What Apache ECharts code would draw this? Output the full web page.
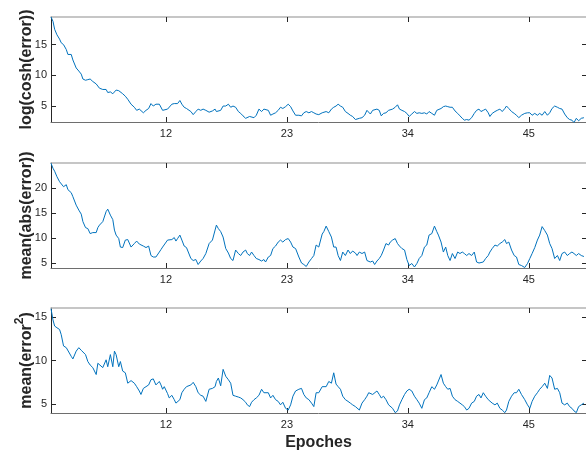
<!DOCTYPE html>
<html>
<head>
<meta charset="utf-8">
<script src="https://cdn.jsdelivr.net/npm/echarts@6/dist/echarts.min.js"></script>
<style>html,body{margin:0;padding:0;background:#fff}#c{width:586px;height:454px}</style>
</head>
<body>
<div id="c"></div>
<script>
// Shared epoch positions of the samples
const epochs = [1.55,1.73,1.88,2.09,2.33,2.48,2.69,2.94,3.09,3.39,
3.54,3.84,4.08,4.30,4.45,4.69,4.90,5.11,5.35,5.66,
5.81,5.96,6.26,6.56,6.71,6.95,7.17,7.32,7.47,7.71,
7.86,8.07,8.31,8.53,8.83,9.13,9.34,9.58,9.73,9.95,
10.19,10.43,10.64,10.85,11.09,11.24,11.40,11.55,11.70,11.85,
12.15,12.30,12.54,12.76,12.91,13.06,13.27,13.45,13.66,13.87,
14.05,14.27,14.48,14.72,14.93,15.17,15.38,15.63,15.93,16.23,
16.47,16.59,16.77,16.98,17.20,17.44,17.68,17.89,18.10,18.34,
18.59,18.80,19.01,19.25,19.40,19.61,19.79,20.01,20.22,20.46,
20.70,20.91,21.06,21.31,21.52,21.73,21.97,22.21,22.42,22.63,
22.88,23.12,
23.34,23.55,23.79,24.09,24.33,24.54,24.76,25.00,25.24,25.45,
25.66,25.90,26.21,26.36,26.57,26.81,27.05,27.26,27.47,27.66,
27.87,28.08,28.32,28.56,28.77,28.98,29.23,29.38,29.59,29.83,
30.07,30.28,30.44,30.59,30.80,30.98,31.19,31.40,31.58,31.79,
32.01,32.25,32.40,32.61,32.85,33.06,33.24,33.46,33.70,33.91,
34.12,34.36,34.60,34.82,35.03,35.27,35.51,35.72,35.93,36.18,
36.42,36.63,36.78,37.02,37.23,37.44,37.63,37.84,38.05,38.29,
38.53,38.74,38.95,39.14,39.35,39.56,39.80,40.04,40.25,40.47,
40.65,40.86,41.07,41.31,41.46,41.67,41.92,42.13,42.37,42.58,
42.82,42.97,43.18,43.43,43.67,43.88,44.09,44.33,44.63,44.88,
45.09,45.30,45.54,45.78,45.99,46.21,46.45,46.69,46.90,47.11,
47.35,47.60,47.81,48.02,48.26,48.50,48.71,48.92,49.11,49.32,
49.53,49.77,50.01];

const logCosh = [19.5,18.8,17.5,16.6,15.9,15.3,15.0,14.2,13.4,13.4,
12.5,11.2,10.7,10.2,9.4,9.2,9.3,9.4,9.0,8.6,
8.4,7.9,7.7,7.7,7.2,7.3,7.0,7.3,7.6,7.5,
7.6,7.0,6.6,6.1,5.3,4.8,4.3,4.5,4.2,3.9,
4.3,4.6,5.4,5.0,5.3,5.5,5.3,5.0,4.3,4.2,
4.5,4.6,5.3,5.4,5.2,5.4,5.9,5.3,4.8,4.6,
4.5,4.1,3.6,4.1,4.5,4.3,4.5,4.3,4.0,4.2,
4.5,4.1,4.3,4.3,5.0,5.0,5.3,4.8,5.0,4.8,
4.1,3.8,3.4,3.0,2.7,3.3,3.0,3.1,3.5,4.5,
4.1,4.5,4.6,4.3,3.5,3.7,3.9,4.3,4.8,4.6,
4.9,5.3,
4.9,4.2,3.5,3.5,3.4,3.9,4.1,3.9,4.1,3.9,
3.7,3.6,3.9,3.6,4.1,3.9,4.5,4.8,5.0,5.3,
5.0,4.8,4.1,3.8,3.5,3.3,2.8,2.6,3.0,3.1,
3.5,4.3,4.2,3.7,4.3,4.6,4.5,4.3,3.4,3.8,
3.9,4.3,4.6,4.5,4.8,5.2,4.5,4.3,4.1,3.8,
3.3,3.7,4.1,3.8,3.9,3.8,3.9,3.7,4.1,3.8,
3.5,4.3,4.1,4.6,4.9,5.0,4.9,4.8,4.8,4.2,
3.8,3.4,3.0,2.7,2.8,2.7,3.1,3.8,4.3,4.5,
4.1,4.3,4.5,3.9,3.3,3.8,4.1,4.3,4.5,4.1,
4.6,5.0,4.6,4.1,3.8,3.5,3.1,3.5,3.8,3.9,
3.9,3.5,3.8,3.5,3.8,3.5,4.1,3.5,3.9,4.6,
5.0,4.8,4.6,4.5,3.7,3.1,2.8,2.7,2.3,3.0,
2.6,3.0,3.1];

const meanAbs = [25.0,24.0,23.4,22.3,21.3,21.7,20.3,20.7,19.7,19.1,
18.3,16.6,15.6,14.8,13.3,12.1,11.9,10.9,11.1,11.1,
12.1,12.6,13.3,15.3,15.8,14.6,13.7,11.6,10.6,9.9,
8.2,8.1,9.6,9.7,8.2,8.9,9.4,8.8,8.6,8.4,
8.1,8.4,6.5,6.2,6.2,6.5,7.2,7.7,8.2,8.4,
9.6,9.9,9.7,10.1,9.4,9.9,10.6,9.6,8.4,8.1,
7.9,5.9,5.5,5.7,4.7,5.4,5.9,6.9,8.9,9.6,
11.6,12.6,11.9,11.3,10.2,7.9,7.0,5.9,5.5,7.6,
6.9,6.5,7.2,7.6,6.9,6.5,7.2,6.5,5.9,5.7,
5.4,5.7,5.2,6.2,6.5,7.9,8.4,9.2,9.6,9.2,
9.7,9.9,
9.2,8.2,7.9,6.2,5.0,4.7,4.3,5.2,5.9,6.5,
8.6,8.2,10.8,11.3,12.4,11.3,10.2,8.2,8.2,6.5,
5.5,7.2,6.5,7.6,6.9,7.4,7.0,6.5,7.2,6.9,
7.2,5.5,5.4,5.2,5.4,4.7,5.4,5.9,6.5,7.6,
8.9,8.6,9.2,9.6,9.9,8.9,8.4,7.9,7.6,5.7,
4.5,4.9,4.2,4.9,5.9,6.5,8.2,8.6,10.6,10.9,
12.4,11.3,10.6,9.2,7.2,8.2,6.5,5.5,6.9,5.9,
7.2,6.9,7.2,6.9,6.5,6.9,6.5,7.2,5.2,5.0,
4.7,5.2,5.9,6.5,7.2,7.9,8.6,8.4,8.9,9.2,
9.7,8.9,9.2,7.6,6.5,6.2,4.7,4.5,4.1,4.9,
5.9,6.9,8.1,9.6,10.6,12.3,11.5,10.6,8.9,7.9,
5.9,6.5,5.5,6.9,7.2,6.5,6.9,7.2,6.9,6.5,
6.9,6.5,6.3];

const meanSq = [16.0,14.7,14.0,13.8,13.6,13.0,11.7,11.5,11.5,10.5,
10.2,11.1,11.5,11.2,11.3,10.7,9.9,9.5,9.2,8.4,
9.7,9.9,9.2,10.1,9.3,10.7,9.3,11.1,10.7,9.3,
9.9,8.8,8.6,7.4,7.7,7.4,7.0,6.5,6.1,6.8,
7.0,7.2,7.8,7.9,7.2,7.4,7.6,7.2,6.7,7.0,
6.2,5.7,6.0,5.5,5.1,5.2,5.5,6.3,6.7,7.0,
7.0,7.2,7.5,7.0,6.3,6.0,5.9,5.3,6.7,6.8,
7.0,7.6,8.0,7.1,9.0,8.2,7.8,7.4,6.0,5.9,
5.8,5.7,5.5,5.2,4.9,4.7,5.2,5.5,5.7,6.0,
6.7,6.3,6.5,6.3,5.7,6.0,5.5,5.3,4.9,5.2,
4.5,4.3,
4.9,5.9,6.5,6.7,6.8,6.1,5.7,5.5,5.1,4.7,
6.3,6.3,7.0,7.2,7.0,7.6,7.4,8.6,7.3,7.0,
6.7,5.9,5.5,5.3,5.1,4.9,4.7,4.5,4.3,5.1,
5.5,5.9,6.3,6.5,6.1,6.3,6.5,6.1,5.7,5.9,
5.5,4.9,4.7,4.5,4.0,4.2,4.9,5.5,6.1,6.5,
6.7,6.5,5.9,5.5,5.1,4.5,5.5,5.7,6.3,7.0,
6.7,7.2,7.4,8.4,7.4,7.0,6.7,6.8,5.9,5.5,
5.3,5.1,4.9,4.7,4.3,4.5,5.1,5.3,5.9,6.1,
5.7,6.3,5.9,5.5,5.7,5.1,4.9,5.1,4.5,4.3,
4.0,4.3,5.3,5.9,6.3,6.3,6.7,6.1,5.5,4.9,
4.5,5.3,5.9,6.3,6.7,7.0,7.4,6.8,8.3,8.0,
6.7,6.8,6.3,5.1,4.9,5.1,4.7,4.5,4.2,4.0,
4.7,4.9,5.1];

const xTicks = [12, 23, 34, 45];
const yTicks1 = [5, 10, 15];
const yTicks2 = [5, 10, 15, 20];
const yTicks3 = [5, 10, 15];
const yNames = ['log(cosh(error))', 'mean(abs(error))', '{t|mean(error}{s|2}{t|)}'];
const xName = 'Epoches';

const FONT = '"Liberation Sans", Arial, Helvetica, sans-serif';
const LINE = '#0072BD';

const grids = [
  {left: 51, right: -2, top: 17, height: 105},
  {left: 51, right: -2, top: 163, height: 105},
  {left: 51, right: -2, top: 308, height: 105}
];
const yRanges = [[2.4, 19.5], [4.0, 25.05], [3.96, 16.08]];
const yTickSets = [yTicks1, yTicks2, yTicks3];
const series = [logCosh, meanAbs, meanSq];

const xAxes = [], yAxes = [], ser = [];
for (let i = 0; i < 3; i++) {
  xAxes.push({
    type: 'value', gridIndex: i, min: 1.55, max: 50.2, position: 'bottom',
    axisLine: {show: true, lineStyle: {color: '#6e6e6e', width: 1}},
    axisTick: {show: true, inside: true, length: 5, customValues: xTicks, lineStyle: {color: '#262626'}},
    axisLabel: {show: true, customValues: xTicks, color: '#262626', fontSize: 11, fontFamily: FONT, margin: 6},
    splitLine: {show: false},
    name: i === 2 ? xName : '', nameLocation: 'middle', nameGap: 22, nameMoveOverlap: false,
    nameTextStyle: {fontSize: 16, fontWeight: 'bold', color: '#262626', fontFamily: FONT}
  });
  xAxes.push({
    type: 'value', gridIndex: i, min: 1.55, max: 50.2, position: 'top',
    axisLine: {show: true, lineStyle: {color: '#b4b4b4', width: 1.5}},
    axisTick: {show: true, inside: true, length: 5, customValues: xTicks, lineStyle: {color: '#262626'}},
    axisLabel: {show: false}, splitLine: {show: false}
  });
  yAxes.push({
    type: 'value', gridIndex: i, min: yRanges[i][0], max: yRanges[i][1], position: 'left',
    axisLine: {show: true, lineStyle: {color: '#262626', width: 1}},
    axisTick: {show: true, inside: true, length: 5, customValues: yTickSets[i], lineStyle: {color: '#262626'}},
    axisLabel: {show: true, customValues: yTickSets[i], color: '#262626', fontSize: 11, fontFamily: FONT, margin: 4},
    splitLine: {show: false},
    name: yNames[i], nameLocation: 'middle', nameGap: 16, nameRotate: 90, nameMoveOverlap: false,
    nameTextStyle: {fontSize: 16, fontWeight: 'bold', color: '#262626', fontFamily: FONT,
      rich: {
        t: {fontSize: 16, fontWeight: 'bold', color: '#262626', fontFamily: FONT, verticalAlign: 'bottom'},
        s: {fontSize: 12, fontWeight: 'bold', color: '#262626', fontFamily: FONT, verticalAlign: 'bottom', padding: [0, 0, 9, 0]}
      }}
  });
  yAxes.push({
    type: 'value', gridIndex: i, min: yRanges[i][0], max: yRanges[i][1], position: 'right',
    axisLine: {show: false},
    axisTick: {show: true, inside: true, length: 4, customValues: yTickSets[i], lineStyle: {color: '#262626'}},
    axisLabel: {show: false}, splitLine: {show: false}
  });
  ser.push({
    type: 'line', xAxisIndex: 2 * i, yAxisIndex: 2 * i, showSymbol: false, symbol: 'none',
    data: epochs.map((e, k) => [e, series[i][k]]),
    lineStyle: {color: LINE, width: 1}, animation: false
  });
}

const chart = echarts.init(document.getElementById('c'), null, {renderer: 'canvas'});
chart.setOption({
  animation: false,
  backgroundColor: '#ffffff',
  grid: grids,
  xAxis: xAxes,
  yAxis: yAxes,
  series: ser
});
</script>
</body>
</html>
